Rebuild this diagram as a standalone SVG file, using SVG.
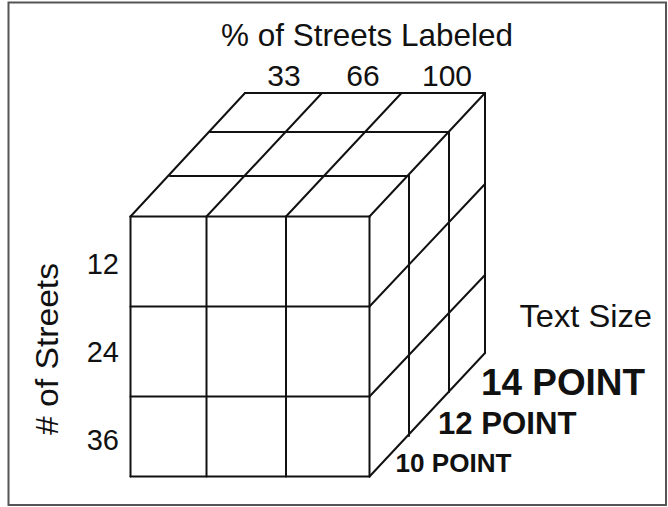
<svg xmlns="http://www.w3.org/2000/svg" width="668" height="507" viewBox="0 0 668 507">
<style>
.ln{stroke:#111;stroke-width:2;fill:none;stroke-linecap:round;stroke-linejoin:round}
.t{font-family:"Liberation Sans",Arial,Helvetica,sans-serif;fill:#111}
.b{font-weight:bold}
</style>
<rect x="0" y="0" width="668" height="507" fill="#fff"/>
<rect id="frame" x="8.5" y="2.5" width="657.5" height="502.5" fill="none" stroke="#555" stroke-width="2"/>
<g id="cube" class="ln">
<g id="front-face">
<path d="M130.5,216.5V476.5M206.5,216.5V476.5M286,216.5V476.5M369.5,216.5V476.5"/>
<path d="M130.5,216.5H369.5M130.5,306.5H369.5M130.5,396.5H369.5M130.5,476.5H369.5"/>
</g>
<g id="top-face">
<path d="M170,176H409M210,132H449M245,93H485"/>
<path d="M130.5,216.5L245,93M206.5,216.5L322,93M286,216.5L401.5,93M369.5,216.5L485,93"/>
</g>
<g id="side-face">
<path d="M409,176V436M449,132V392M485,93V353"/>
<path d="M369.5,306.5L485,184M369.5,396.5L485,275M369.5,476.5L485,353"/>
</g>
</g>
<g id="labels">
<text class="t" x="221" y="46" font-size="31.5" textLength="292" lengthAdjust="spacingAndGlyphs">% of Streets Labeled</text>
<text class="t" x="284" y="85.5" font-size="30" text-anchor="middle">33</text>
<text class="t" x="363" y="85.5" font-size="30" text-anchor="middle">66</text>
<text class="t" x="447" y="85.5" font-size="30" text-anchor="middle">100</text>
<text class="t" x="119" y="273.5" font-size="29" text-anchor="end">12</text>
<text class="t" x="119" y="361.5" font-size="29" text-anchor="end">24</text>
<text class="t" x="119" y="450" font-size="29" text-anchor="end">36</text>
<text class="t" transform="translate(58,435) rotate(-90)" x="0" y="0" font-size="32" textLength="172" lengthAdjust="spacingAndGlyphs"># of Streets</text>
<text class="t" x="519.5" y="327" font-size="30.5" textLength="132.5" lengthAdjust="spacingAndGlyphs">Text Size</text>
<text class="t b" x="481" y="395" font-size="36.5" textLength="164" lengthAdjust="spacingAndGlyphs">14 POINT</text>
<text class="t b" x="438" y="433.5" font-size="32" textLength="138.5" lengthAdjust="spacingAndGlyphs">12 POINT</text>
<text class="t b" x="395.5" y="471.5" font-size="26" textLength="116" lengthAdjust="spacingAndGlyphs">10 POINT</text>
</g>
</svg>
